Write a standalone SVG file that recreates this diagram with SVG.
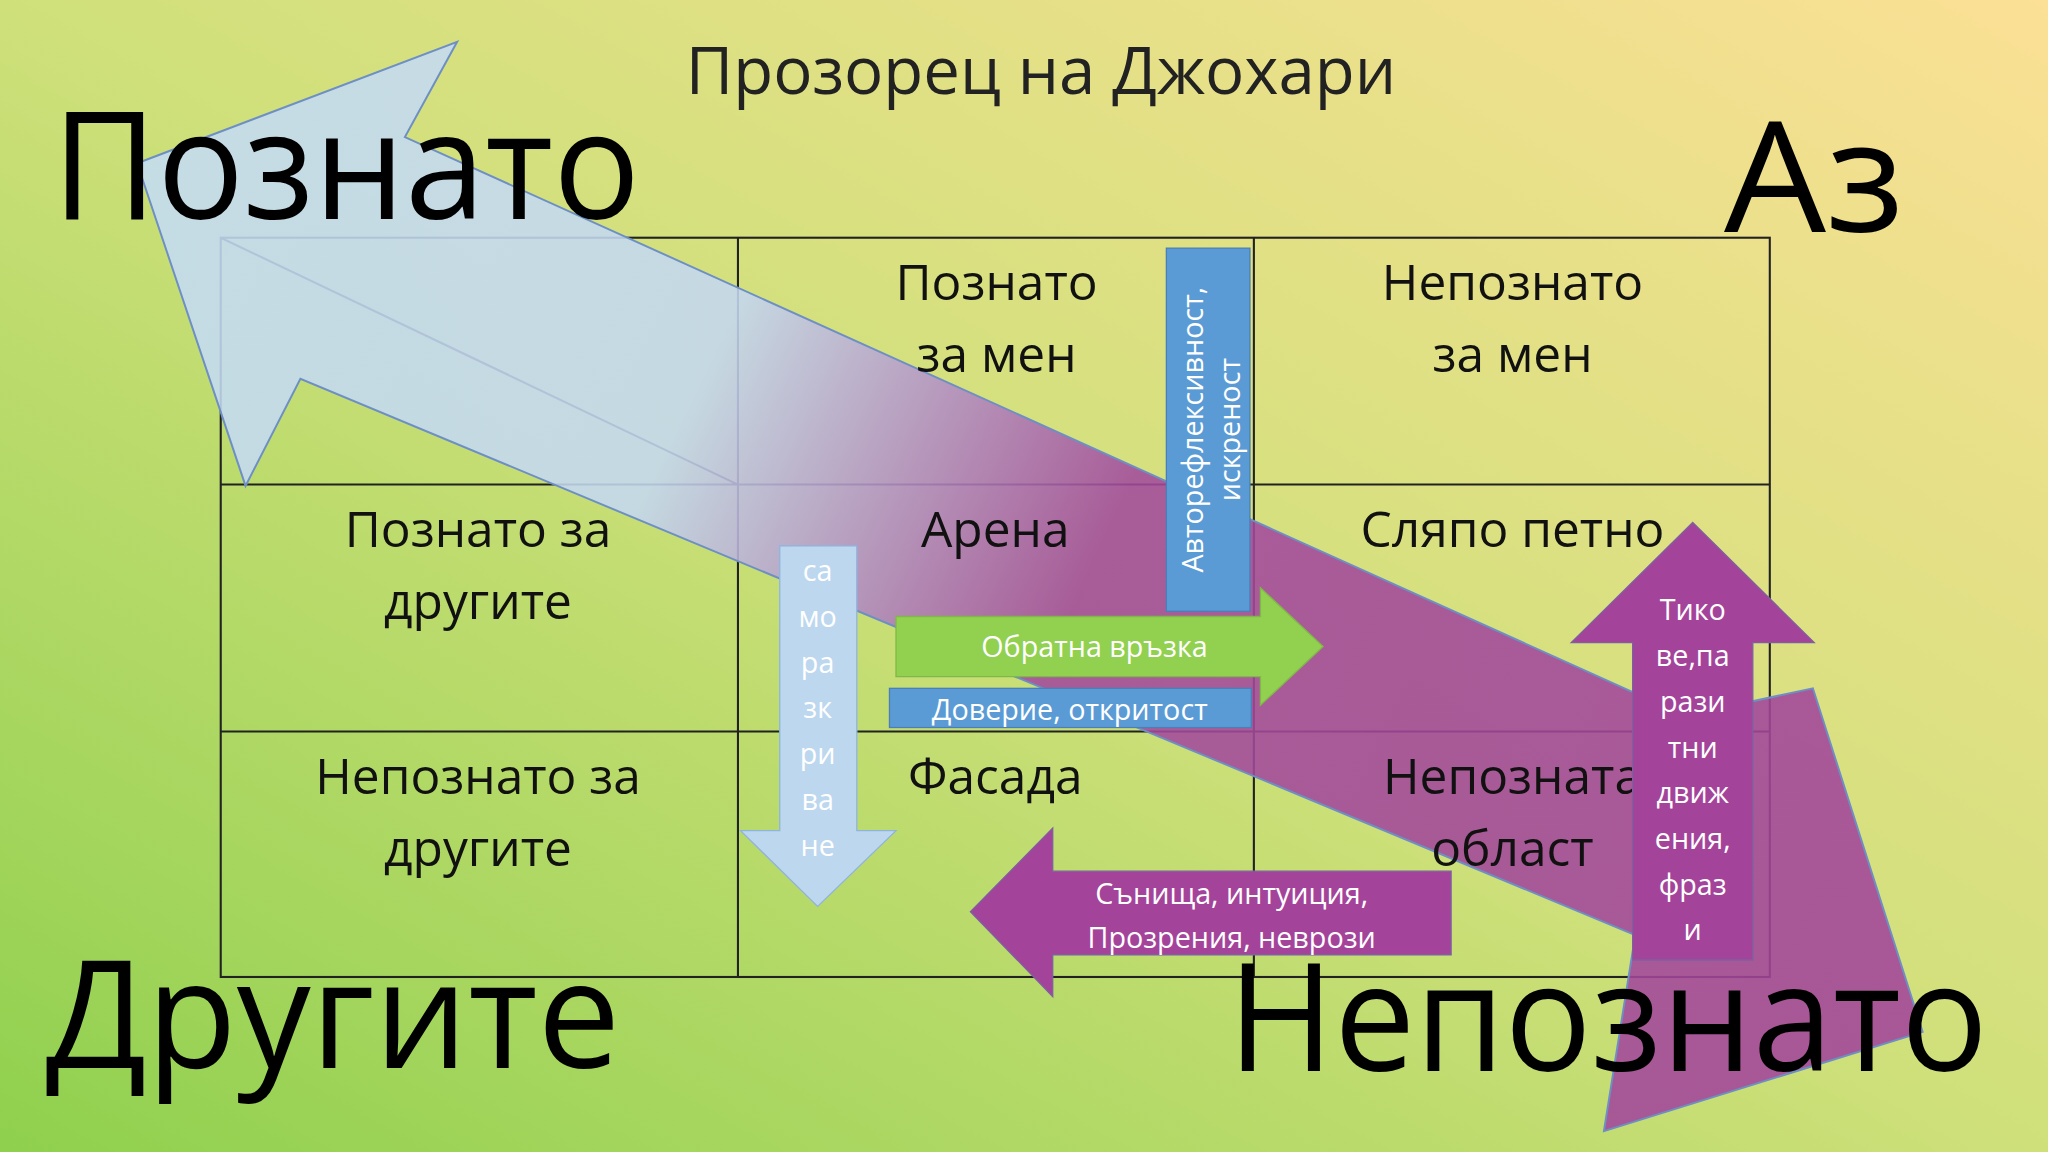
<svg xmlns="http://www.w3.org/2000/svg" width="2048" height="1152" viewBox="0 0 2048 1152">
<defs>
<linearGradient id="bg" x1="0" y1="1" x2="1" y2="0">
<stop offset="0" stop-color="#8fd04e"/><stop offset="0.5" stop-color="#cfe07a"/><stop offset="1" stop-color="#fbe095"/>
</linearGradient>
<linearGradient id="big" gradientUnits="userSpaceOnUse" x1="110" y1="130" x2="1472" y2="790">
<stop offset="0" stop-color="#c4dcf4"/><stop offset="0.3" stop-color="#c4d8f0"/><stop offset="0.52" stop-color="#a24a9c"/><stop offset="1" stop-color="#a3449a"/>
</linearGradient>
<style>
text{font-family:"Open Sans","Noto Sans","DejaVu Sans",sans-serif}
.cell{font-size:38px;fill:#111;text-anchor:middle}
.big{fill:#000}
.w{fill:#fff;text-anchor:middle;font-size:22px}
.grid{stroke:#222;stroke-width:1.6;fill:none}
</style>
</defs>
<rect width="2048" height="1152" fill="url(#bg)"/>
<g transform="scale(1.30612)">
<g id="grid">
<rect class="grid" x="169" y="182" width="1186" height="566"/>
<path class="grid" d="M565 182V748M960 182V748M169 371H1355M169 560H1355M169 182L565 371"/>
</g>
<g id="connectors">
<polygon id="bigArrow" points="105,125 350,32 310,105 1290,548 1388,527 1472,790 1228,866 1252,716 230,290 188,372" fill="url(#big)" fill-opacity="0.88" stroke="#6d8fc4" stroke-width="1.5"/>
</g>
<g id="title"><text x="797" y="72" font-size="50" text-anchor="middle" fill="#222">Прозорец на Джохари</text></g>
<g id="labels">
<text class="big" x="40" y="168" font-size="115" textLength="450" lengthAdjust="spacingAndGlyphs">Познато</text>
<text class="big" x="1320" y="178" font-size="118" textLength="138" lengthAdjust="spacingAndGlyphs">Аз</text>
<text class="big" x="35" y="818" font-size="115" textLength="440" lengthAdjust="spacingAndGlyphs">Другите</text>
<text class="big" x="940" y="820" font-size="115" textLength="582" lengthAdjust="spacingAndGlyphs">Непознато</text>
</g>
<g id="cells">
<text class="cell" x="763" y="230">Познато</text><text class="cell" x="763" y="285">за мен</text>
<text class="cell" x="1158" y="230">Непознато</text><text class="cell" x="1158" y="285">за мен</text>
<text class="cell" x="366" y="419">Познато за</text><text class="cell" x="366" y="474">другите</text>
<text class="cell" x="762" y="419">Арена</text>
<text class="cell" x="1158" y="419">Сляпо петно</text>
<text class="cell" x="366" y="608">Непознато за</text><text class="cell" x="366" y="663">другите</text>
<text class="cell" x="762" y="608">Фасада</text>
<text class="cell" x="1158" y="608">Непозната</text><text class="cell" x="1158" y="663">област</text>
</g>
<g id="auto">
<rect x="893" y="190" width="64" height="278" fill="#5b9bd5" stroke="#4a7fb8"/>
<text class="w" transform="translate(925,329) rotate(-90)" font-size="24"><tspan x="0" y="-4">Авторефлексивност,</tspan><tspan x="0" y="24">искреност</tspan></text>
</g>
<g id="feedback">
<polygon points="686,472 965,472 965,450 1013,495 965,540 965,518 686,518" fill="#92d050" stroke="#7fb848"/>
<text class="w" x="838" y="503">Обратна връзка</text>
</g>
<g id="trust">
<rect x="681" y="527" width="277" height="30" fill="#5b9bd5" stroke="#4a7fb8"/>
<text class="w" x="819" y="551">Доверие, откритост</text>
</g>
<g id="selfdisclose">
<polygon points="597,418 656,418 656,636 686,636 626,694 567,636 597,636" fill="#bdd7ee" stroke="#8fb4de"/>
<text class="w"><tspan x="626" y="445">са</tspan><tspan x="626" y="480">мо</tspan><tspan x="626" y="515">ра</tspan><tspan x="626" y="550">зк</tspan><tspan x="626" y="585">ри</tspan><tspan x="626" y="620">ва</tspan><tspan x="626" y="655">не</tspan></text>
</g>
<g id="dreams">
<polygon points="743,698 806,634 806,667 1111,667 1111,731 806,731 806,763" fill="#a3449a" stroke="#7f5fa0"/>
<text class="w" x="943" y="692">Сънища, интуиция,</text>
<text class="w" x="943" y="726">Прозрения, неврози</text>
</g>
<g id="tics">
<polygon points="1296,400 1389,492 1342,492 1342,735 1250,735 1250,492 1203,492" fill="#a3449a" stroke="#7f5fa0"/>
<text class="w"><tspan x="1296" y="475">Тико</tspan><tspan x="1296" y="510">ве,па</tspan><tspan x="1296" y="545">рази</tspan><tspan x="1296" y="580">тни</tspan><tspan x="1296" y="615">движ</tspan><tspan x="1296" y="650">ения,</tspan><tspan x="1296" y="685">фраз</tspan><tspan x="1296" y="720">и</tspan></text>
</g>
</g>
</svg>
